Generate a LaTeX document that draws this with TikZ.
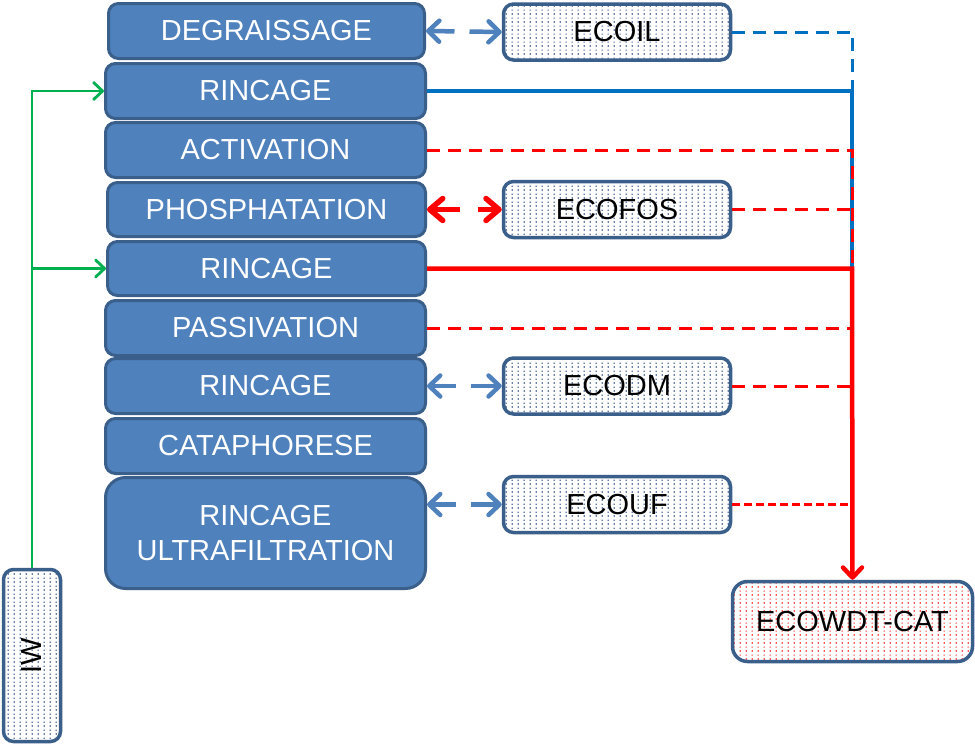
\documentclass[tikz,border=0pt]{standalone}
\usepackage{fontspec}
\setmainfont{Liberation Sans}
\usetikzlibrary{arrows.meta,patterns}
\pgfdeclarepatternformonly{ecodots}{\pgfpointorigin}{\pgfpoint{6pt}{8.4pt}}{\pgfpoint{6pt}{8.4pt}}{%
  \pgfpathrectangle{\pgfpoint{2pt}{1.4pt}}{\pgfpoint{1.4pt}{1.4pt}}%
  \pgfpathrectangle{\pgfpoint{2pt}{5.6pt}}{\pgfpoint{1.1pt}{1.1pt}}%
  \pgfusepath{fill}}
\definecolor{stepfill}{HTML}{4F81BD}
\definecolor{stepline}{HTML}{3A5F8B}
\definecolor{lineblue}{HTML}{0070C0}
\definecolor{dotblue}{HTML}{1F3F77}
\definecolor{ngreen}{HTML}{00B050}
\definecolor{nred}{HTML}{FF0000}
\begin{document}
\begin{tikzpicture}[x=1pt,y=-1pt,
  txt/.style={font=\fontsize{29pt}{35pt}\selectfont},
  stepbox/.style={txt, draw=stepline, line width=3pt, fill=stepfill, rounded corners=10pt,
    minimum width=320pt, minimum height=55pt, inner sep=0pt, text=white, align=center},
  ecobox/.style={txt, draw=stepline, line width=3.5pt, pattern=ecodots, pattern color=dotblue,
    rounded corners=10pt, minimum width=227pt, minimum height=56pt, inner sep=0pt, text=black},
  barrow/.style={draw=stepfill, line width=4.5pt,
    {Straight Barb[length=11pt,width=21pt,round]}-{Straight Barb[length=11pt,width=21pt,round]},
    dash pattern=on 24pt off 15pt on 60pt off 1pt},
  rarrow/.style={draw=nred, line width=5.5pt,
    {Straight Barb[length=13pt,width=22pt,round]}-{Straight Barb[length=13pt,width=22pt,round]},
    dash pattern=on 27pt off 18pt on 60pt off 1pt},
  bluesolid/.style={draw=lineblue, line width=3.5pt},
  bluedash/.style={draw=lineblue, line width=3pt, dash pattern=on 13pt off 8pt},
  redsolid/.style={draw=nred, line width=4.5pt},
  reddash/.style={draw=nred, line width=3pt, dash pattern=on 13pt off 8pt},
  reddashthin/.style={draw=nred, line width=2.2pt, dash pattern=on 8pt off 4pt},
  greenline/.style={draw=ngreen, line width=2.8pt, -{Straight Barb[length=9pt,width=17pt,round]}}
]
\fill[white] (0,0) rectangle (975,744);
\useasboundingbox (0,0) rectangle (975,744);

% process steps
\node[stepbox, minimum width=316pt] (deg) at (266.5,31) {DEGRAISSAGE};
\node[stepbox] (r1) at (265.5,91) {RINCAGE};
\node[stepbox] (act) at (265.5,150) {ACTIVATION};
\node[stepbox, minimum width=318pt, minimum height=54pt] (pho) at (266.5,209.5) {PHOSPHATATION};
\node[stepbox, minimum width=318pt, minimum height=54pt] (r2) at (266.5,268.5) {RINCAGE};
\node[stepbox] (pas) at (265.5,328) {PASSIVATION};
\node[stepbox] (r3) at (265.5,386) {RINCAGE};
\node[stepbox] (cat) at (265.5,446) {CATAPHORESE};
\node[stepbox, minimum height=111pt, rounded corners=20pt] (uf) at (265.5,533) {RINCAGE\\ULTRAFILTRATION};

% eco units
\node[ecobox] (ecoil) at (617,32) {ECOIL};
\node[ecobox] (ecofos) at (617,209.5) {ECOFOS};
\node[ecobox] (ecodm) at (617,386) {ECODM};
\node[ecobox] (ecouf) at (617,504.5) {ECOUF};
\node[ecobox, pattern color=nred, minimum width=240pt, minimum height=80pt, rounded corners=15pt] (wdt) at (852.5,621.5) {ECOWDT-CAT};
\node[ecobox, minimum width=57pt, minimum height=172pt] (iw) at (32,655.5) {\rotatebox{90}{IW}};

% junctions
\coordinate (jA) at (852,32);
\coordinate (jB) at (852,91);
\coordinate (jC) at (852,150);
\coordinate (jD) at (852,209.5);
\coordinate (jE) at (852,268.5);
\coordinate (jF) at (852,328);
\coordinate (jG) at (852,386);
\coordinate (jH) at (852,504.5);
\coordinate (jZ) at (852,375);
\coordinate (g1) at (32,91);
\coordinate (g2) at (32,268.5);

% double arrows
\draw[barrow] (deg.east) -- (ecoil.west);
\draw[rarrow] (pho.east) -- (ecofos.west);
\draw[barrow] (r3.east) -- (ecodm.west);
\draw[barrow] (uf.east |- ecouf.west) -- (ecouf.west);

% collector lines
\draw[bluesolid] (r1.east) -- (jB) -- (jZ);
\draw[bluedash] (ecoil.east) -- (jA) -- (jB);
\draw[reddash] (act.east) -- (jC) -- (jE);
\draw[reddash] (ecofos.east) -- (jD);
\draw[reddash] (pas.east) -- (jF);
\draw[reddash] (ecodm.east) -- (jG);
\draw[reddashthin] (ecouf.east) -- (jH);
\draw[redsolid, -{Straight Barb[length=10pt,width=19pt,round]}] (r2.east) -- (jE) -- (wdt.north);

% green feed
\draw[greenline] (iw.north) -- (g1) -- (r1.west);
\draw[greenline] (g2) -- (r2.west);
\end{tikzpicture}
\end{document}
